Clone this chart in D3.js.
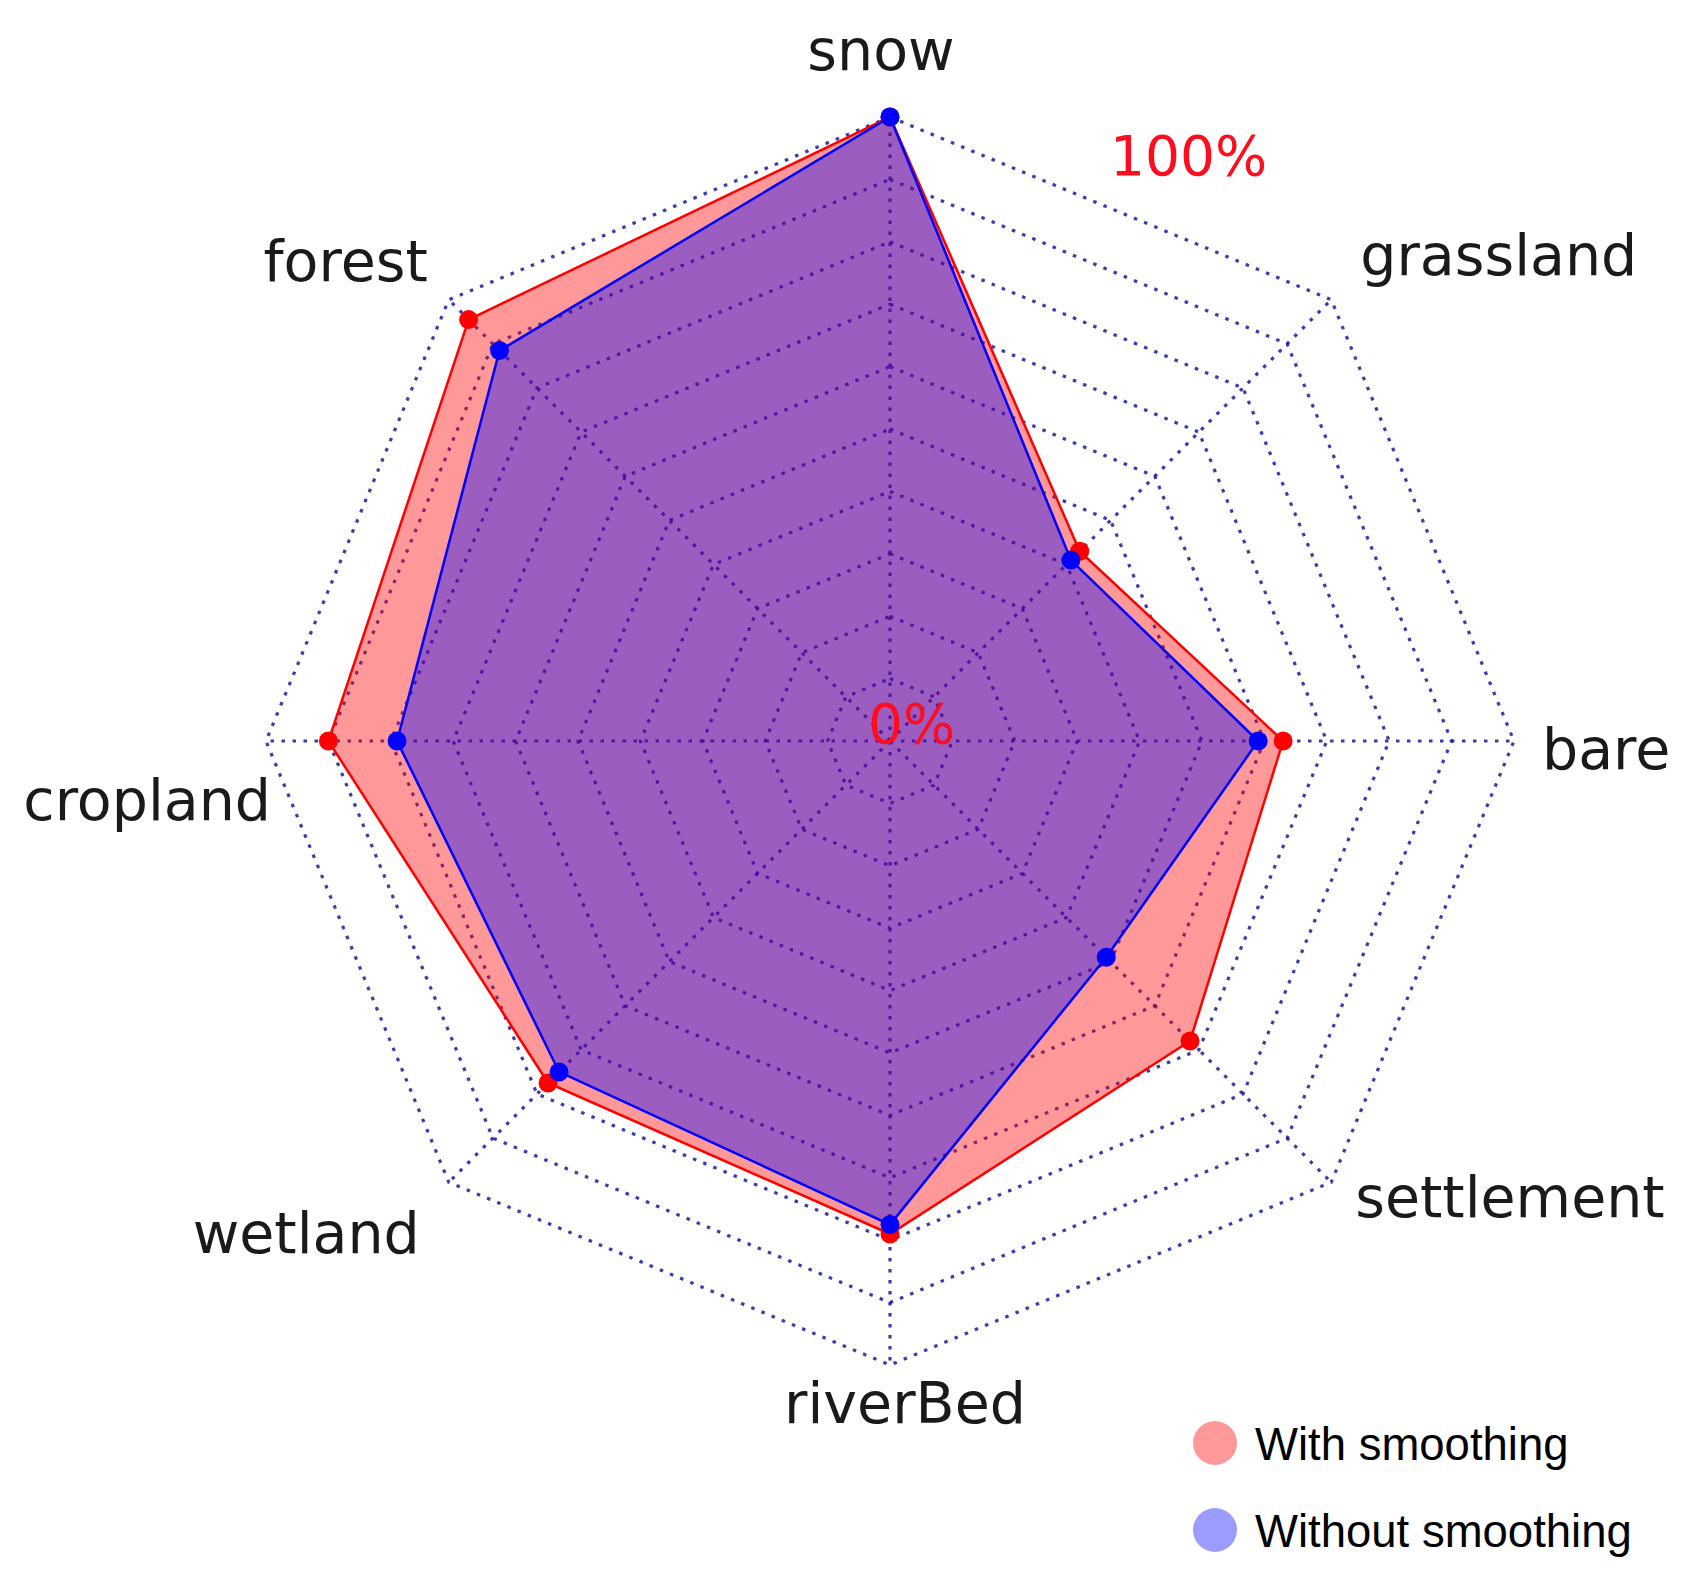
<!DOCTYPE html>
<html>
<head>
<meta charset="utf-8">
<script src="https://cdn.jsdelivr.net/npm/d3@7"></script>
<style>
  html, body { margin: 0; padding: 0; background: #fff; }
  svg { display: block; }
</style>
</head>
<body>
<div id="radar"></div>
<script>
// Catégories (sens horaire depuis le haut)
const categories = ["snow", "grassland", "bare", "settlement", "riverBed", "wetland", "cropland", "forest"];

// Valeurs des deux séries (0..1)
const withSmoothing = [1.0, 0.43, 0.63, 0.68, 0.79, 0.775, 0.90, 0.955];
const withoutSmoothing = [1.0, 0.41, 0.59, 0.49, 0.775, 0.75, 0.79, 0.885];

const seriesNames = ["With smoothing", "Without smoothing"];
const gridLevels = [0.1, 0.2, 0.3, 0.4, 0.5, 0.6, 0.7, 0.8, 0.9, 1.0];
const scaleLabels = ["0%", "100%"];

// Dimensions
const width = 1708;
const height = 1579;
const cx = 890;
const cy = 741;
const radius = 624;

const svg = d3.select("#radar")
  .append("svg")
  .attr("width", width)
  .attr("height", height);

const g = svg.append("g")
  .attr("transform", `translate(${cx},${cy})`);

const r = d3.scaleLinear().domain([0, 1]).range([0, radius]);
const angle = i => i * 2 * Math.PI / categories.length;
const px = (i, v) => r(v) * Math.sin(angle(i));
const py = (i, v) => -r(v) * Math.cos(angle(i));

const radial = d3.lineRadial()
  .angle((d, i) => angle(i))
  .radius(d => r(d))
  .curve(d3.curveLinearClosed);

// Grille pointillée
const gridStyle = sel => sel
  .attr("fill", "none")
  .attr("stroke", "#1a1a9c")
  .attr("stroke-opacity", 0.85)
  .attr("stroke-width", 3.2)
  .attr("stroke-dasharray", "3.5,7.5");

g.selectAll("path.ring")
  .data(gridLevels)
  .enter()
  .append("path")
  .attr("class", "ring")
  .attr("d", lvl => radial(categories.map(() => lvl)))
  .call(gridStyle);

g.selectAll("line.axis")
  .data(categories)
  .enter()
  .append("line")
  .attr("class", "axis")
  .attr("x1", 0).attr("y1", 0)
  .attr("x2", (d, i) => px(i, 1))
  .attr("y2", (d, i) => py(i, 1))
  .call(gridStyle);

// Séries
const series = [
  { name: seriesNames[0], values: withSmoothing, color: "#ff0000", fill: "rgba(255,0,0,0.4)" },
  { name: seriesNames[1], values: withoutSmoothing, color: "#0000ff", fill: "rgba(0,0,255,0.39)" }
];

series.forEach(s => {
  g.append("path")
    .attr("d", radial(s.values))
    .attr("fill", s.fill)
    .attr("stroke", s.color)
    .attr("stroke-width", 2.5);
});

series.forEach(s => {
  g.selectAll(null)
    .data(s.values)
    .enter()
    .append("circle")
    .attr("cx", (d, i) => px(i, d))
    .attr("cy", (d, i) => py(i, d))
    .attr("r", 9.5)
    .attr("fill", s.color);
});

// Étiquettes des catégories (décalages de mise en page)
const labelNudge = [
  [-9, -47, "middle"],
  [29, -25, "start"],
  [28, 28, "start"],
  [24, 35, "start"],
  [15, 58, "middle"],
  [-29, 71, "end"],
  [5, 79, "end"],
  [-21, -19, "end"]
];

g.selectAll("text.cat")
  .data(categories)
  .enter()
  .append("text")
  .attr("class", "cat")
  .attr("x", (d, i) => px(i, 1) + labelNudge[i][0])
  .attr("y", (d, i) => py(i, 1) + labelNudge[i][1])
  .attr("text-anchor", (d, i) => labelNudge[i][2])
  .style("font-family", "'DejaVu Sans', sans-serif")
  .style("font-size", "57px")
  .style("fill", "#1a1a1a")
  .text(d => d);

// Étiquettes d'échelle
g.append("text")
  .attr("x", -22)
  .attr("y", 2)
  .style("font-family", "'DejaVu Sans', sans-serif")
  .style("font-size", "55px")
  .style("fill", "#ff0d1f")
  .text(scaleLabels[0]);

g.append("text")
  .attr("x", 220)
  .attr("y", -566)
  .style("font-family", "'DejaVu Sans', sans-serif")
  .style("font-size", "55px")
  .style("fill", "#ff0d1f")
  .text(scaleLabels[1]);

// Légende
const legend = svg.append("g")
  .attr("transform", "translate(1215,1443)");

legend.selectAll("circle")
  .data(series)
  .enter()
  .append("circle")
  .attr("cx", 0)
  .attr("cy", (d, i) => i * 87)
  .attr("r", 22)
  .attr("fill", d => d.fill);

legend.selectAll("text")
  .data(series)
  .enter()
  .append("text")
  .attr("x", 40)
  .attr("y", (d, i) => i * 87 + 17)
  .style("font-family", "'Liberation Sans', Arial, sans-serif")
  .style("font-size", "45.5px")
  .style("fill", "#000")
  .text(d => d.name);
</script>
</body>
</html>
